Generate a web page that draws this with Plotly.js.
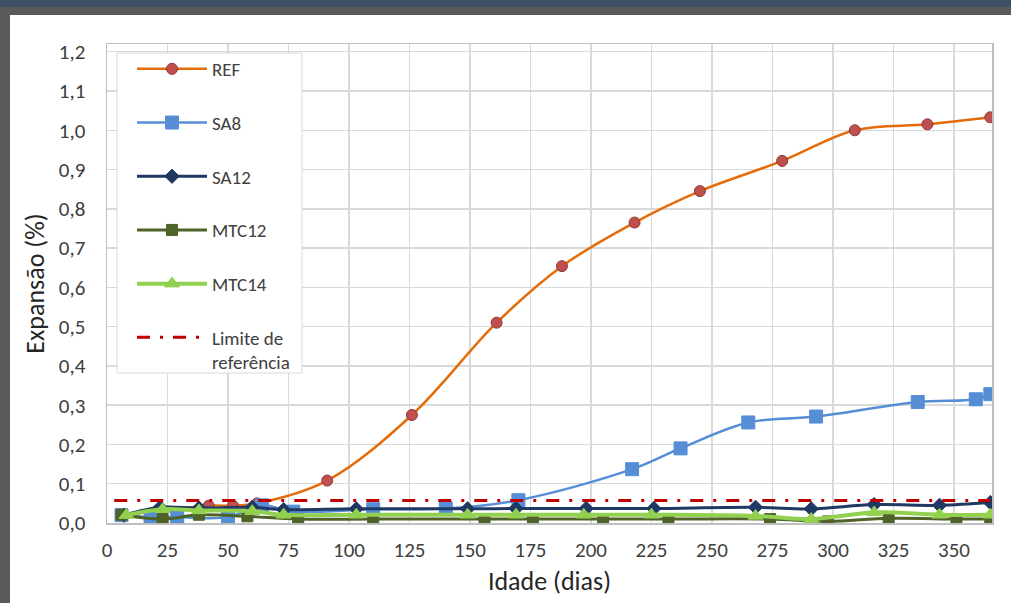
<!DOCTYPE html>
<html><head><meta charset="utf-8">
<script src="https://cdn.plot.ly/plotly-3.0.1.min.js"></script>
<style>html,body{margin:0;padding:0;background:#fff;overflow:hidden;} #chart{width:1011px;height:603px;}</style>
</head><body><div id="chart"></div>
<script>
const refDays = [7, 42, 52, 62, 91, 126, 161, 188, 218, 245, 279, 309, 339, 365];
const refVals = [0.02, 0.044, 0.044, 0.05, 0.108, 0.275, 0.51, 0.654, 0.765, 0.845, 0.922, 1.0, 1.015, 1.033];
const sa8Days = [6, 18, 29, 50, 64, 77, 110, 140, 170, 217, 237, 265, 293, 335, 359, 365];
const sa8Vals = [0.02, 0.015, 0.015, 0.015, 0.045, 0.029, 0.035, 0.037, 0.058, 0.137, 0.19, 0.256, 0.271, 0.308, 0.315, 0.328];
const sa12Days = [7, 22, 38, 60, 73, 103, 149, 169, 198, 226, 268, 291, 317, 344, 365];
const sa12Vals = [0.02, 0.04, 0.038, 0.04, 0.034, 0.036, 0.036, 0.037, 0.037, 0.037, 0.04, 0.036, 0.047, 0.045, 0.052];
const mtc12Days = [6, 23, 38, 58, 79, 110, 156, 176, 205, 232, 274, 298, 323, 351, 365];
const mtc12Vals = [0.021, 0.01, 0.021, 0.017, 0.01, 0.01, 0.01, 0.01, 0.01, 0.01, 0.01, 0.004, 0.012, 0.01, 0.01];
const mtc14Days = [8, 23, 38, 60, 73, 103, 149, 169, 197, 225, 268, 291, 317, 344, 365];
const mtc14Vals = [0.02, 0.035, 0.032, 0.03, 0.021, 0.021, 0.021, 0.021, 0.021, 0.021, 0.018, 0.01, 0.027, 0.021, 0.021];
const limitDays = [3, 365];
const limitVals = [0.057, 0.057];
const seriesNames = ["REF", "SA8", "SA12", "MTC12", "MTC14", "Limite de<br>referência"];

const FONT = "Carlito, Lato, 'Open Sans', sans-serif";

function sc(name, x, y, lineColor, lw, sym, msize, mfill, mline, grp) {
  return {
    type: "scatter", mode: "lines+markers", name: name, x: x, y: y,
    legendgroup: grp,
    line: {color: lineColor, width: lw, shape: "spline", smoothing: 1},
    marker: {symbol: sym, size: msize, color: mfill, line: {color: mline, width: 1}},
    hoverinfo: "x+y"
  };
}

const traces = [
  sc(seriesNames[0], refDays, refVals, "#E46C0A", 2.5, "circle", 11, "#C0504D", "#8C3836", "g1"),
  sc(seriesNames[1], sa8Days, sa8Vals, "#558ED5", 2.5, "square", 13, "#558ED5", "#558ED5", "g2"),
  sc(seriesNames[2], sa12Days, sa12Vals, "#1F3864", 3, "diamond", 11, "#1F3864", "#1F3864", "g3"),
  sc(seriesNames[3], mtc12Days, mtc12Vals, "#4F6228", 3, "square", 11, "#4F6228", "#4F6228", "g4"),
  sc(seriesNames[4], mtc14Days, mtc14Vals, "#92D050", 4, "triangle-up", 13, "#92D050", "#92D050", "g5"),
  {type: "scatter", mode: "lines", name: seriesNames[5], x: limitDays, y: limitVals, legendgroup: "g6",
   line: {color: "#C00000", width: 3, dash: "13px,10px,3px,10px"}, hoverinfo: "y"}
];

const L = 107, R = 992, T = 44, B = 523, W = 1011, H = 603;
const px = v => (v - L) / (R - L);
const py = v => (B - v) / (B - T);

const shapes = [
  {type: "rect", xref: "paper", yref: "paper", x0: px(117), x1: px(302), y0: py(373), y1: py(53), fillcolor: "#ffffff", line: {color: "#D9D9D9", width: 1}, layer: "above"},
  {type: "rect", xref: "paper", yref: "paper", x0: px(0), x1: px(W), y0: py(0), y1: py(7), fillcolor: "#3E4F63", line: {width: 0}, layer: "above"},
  {type: "rect", xref: "paper", yref: "paper", x0: px(0), x1: px(W), y0: py(7), y1: py(15), fillcolor: "#5A5A5A", line: {width: 0}, layer: "above"},
  {type: "rect", xref: "paper", yref: "paper", x0: px(0), x1: px(10), y0: py(7), y1: py(H), fillcolor: "#5A5A5A", line: {width: 0}, layer: "above"}
];

const layout = {
  width: W, height: H,
  margin: {l: L, r: W - R, t: T, b: H - B, pad: 0},
  paper_bgcolor: "#ffffff", plot_bgcolor: "#ffffff",
  separators: ", ",
  font: {family: FONT, color: "#404040", size: 16},
  showlegend: true,
  legend: {
    x: px(132), y: py(50), xanchor: "left", yanchor: "top",
    bgcolor: "rgba(0,0,0,0)", borderwidth: 0,
    font: {family: FONT, size: 19, color: "#404040"},
    tracegroupgap: 26, itemwidth: 70, valign: "top", traceorder: "grouped"
  },
  xaxis: {
    range: [0, 365.7], tickmode: "linear", tick0: 0, dtick: 25,
    showgrid: true, gridcolor: "#D9D9D9", gridwidth: 1.5,
    showline: true, linecolor: "#BFBFBF", linewidth: 1.5, mirror: true,
    zeroline: false, ticks: "", ticklabelstandoff: 7,
    tickfont: {family: FONT, size: 21, color: "#404040"},
    title: {text: "Idade (dias)", font: {family: FONT, size: 26, color: "#262626"}, standoff: 10}
  },
  yaxis: {
    range: [0, 1.2196], tickmode: "linear", tick0: 0, dtick: 0.1, tickformat: ".1f",
    showgrid: true, gridcolor: "#D9D9D9", gridwidth: 1.5,
    showline: true, linecolor: "#BFBFBF", linewidth: 1.5, mirror: true,
    zeroline: false, ticks: "", ticklabelstandoff: 16,
    tickfont: {family: FONT, size: 21, color: "#404040"},
    title: {text: "Expansão (%)", font: {family: FONT, size: 26, color: "#262626"}, standoff: 6}
  },
  shapes: shapes
};

Plotly.newPlot("chart", traces, layout, {displayModeBar: false, staticPlot: true});
</script>
</body></html>
